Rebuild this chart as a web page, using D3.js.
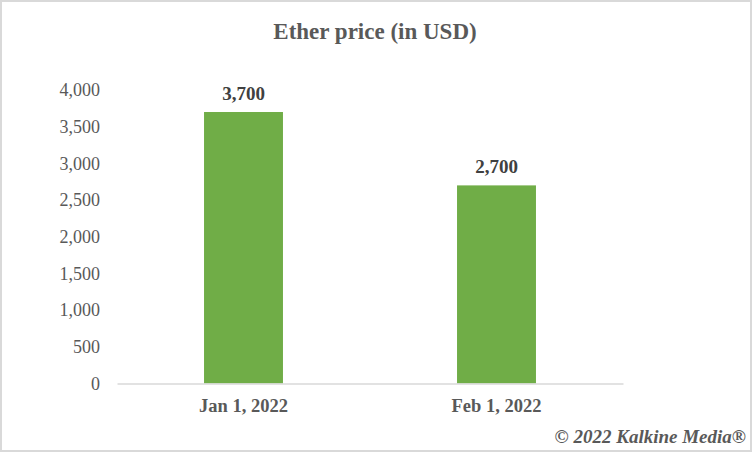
<!DOCTYPE html>
<html>
<head>
<meta charset="utf-8">
<script src="https://cdn.jsdelivr.net/npm/d3@7"></script>
<style>
  html, body { margin: 0; padding: 0; background: #fff; }
  svg { display: block; font-family: "Liberation Serif", "Times New Roman", serif; }
</style>
</head>
<body>
<div id="chart"></div>
<script>
// chart data
const dates  = ["Jan 1, 2022", "Feb 1, 2022"];
const prices = [3700, 2700];
const yTicks = [0, 500, 1000, 1500, 2000, 2500, 3000, 3500, 4000];

const W = 752, H = 452;
const margin = { top: 90, right: 129, bottom: 68.5, left: 117 };
const innerW = W - margin.left - margin.right;
const innerH = H - margin.top - margin.bottom;

const svg = d3.select("#chart").append("svg")
  .attr("width", W)
  .attr("height", H);

// outer border
svg.append("rect")
  .attr("x", 1).attr("y", 1)
  .attr("width", W - 2).attr("height", H - 2)
  .attr("fill", "#fff")
  .attr("stroke", "#d9d9d9")
  .attr("stroke-width", 2);

// title
svg.append("text")
  .attr("x", W / 2 - 1)
  .attr("y", 39)
  .attr("text-anchor", "middle")
  .attr("font-size", "23px")
  .attr("font-weight", "bold")
  .attr("fill", "#595959")
  .text("Ether price (in USD)");

const g = svg.append("g")
  .attr("transform", `translate(${margin.left},${margin.top})`);

const x = d3.scaleBand()
  .domain(dates)
  .range([0, innerW])
  .paddingInner(0.688)
  .paddingOuter(0.344);

const y = d3.scaleLinear()
  .domain([0, 4000])
  .range([innerH, 0]);

// y axis: labels only
const yAxis = g.append("g")
  .call(d3.axisLeft(y).tickValues(yTicks).tickFormat(d3.format(",")).tickSize(0).tickPadding(17));
yAxis.select(".domain").remove();
yAxis.selectAll("text")
  .attr("font-family", "Liberation Serif, serif")
  .attr("font-size", "18px")
  .attr("fill", "#595959");

// bars
g.selectAll("rect.bar")
  .data(prices)
  .join("rect")
  .attr("class", "bar")
  .attr("x", (d, i) => x(dates[i]))
  .attr("y", d => y(d))
  .attr("width", x.bandwidth())
  .attr("height", d => innerH - y(d))
  .attr("fill", "#70ad47");

// value labels
g.selectAll("text.val")
  .data(prices)
  .join("text")
  .attr("class", "val")
  .attr("x", (d, i) => x(dates[i]) + x.bandwidth() / 2)
  .attr("y", d => y(d) - 12)
  .attr("text-anchor", "middle")
  .attr("font-size", "19px")
  .attr("font-weight", "bold")
  .attr("fill", "#404040")
  .text(d => d3.format(",")(d));

// x axis
const xAxis = g.append("g")
  .attr("transform", `translate(0,${innerH})`)
  .call(d3.axisBottom(x).tickSize(0).tickPadding(15));
xAxis.select(".domain")
  .attr("stroke", "#d9d9d9")
  .attr("stroke-width", 1.5);
xAxis.selectAll("text")
  .attr("font-family", "Liberation Serif, serif")
  .attr("font-size", "18.5px")
  .attr("font-weight", "bold")
  .attr("fill", "#595959");

// copyright
svg.append("text")
  .attr("x", 746)
  .attr("y", 443)
  .attr("text-anchor", "end")
  .attr("font-size", "19px")
  .attr("font-weight", "bold")
  .attr("font-style", "italic")
  .attr("fill", "#595959")
  .text("© 2022 Kalkine Media®");
</script>
</body>
</html>
